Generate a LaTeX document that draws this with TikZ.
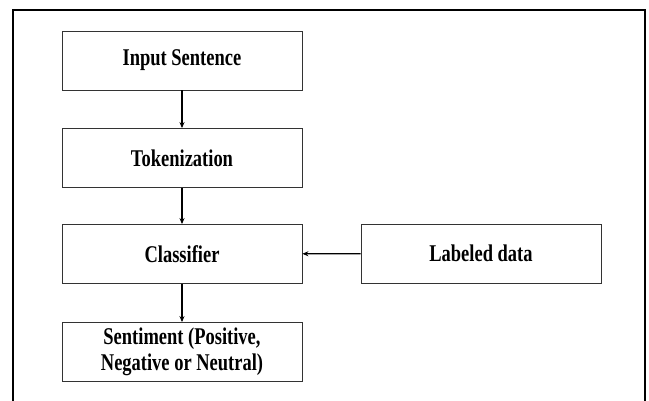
\documentclass[tikz,border=0pt]{standalone}
\usepackage{fontspec}
\setmainfont{Liberation Serif}[FakeStretch=0.77]
\usetikzlibrary{arrows.meta}

\begin{document}
\begin{tikzpicture}[x=1pt, y=1pt,
    stagebox/.style={draw=black!80, line width=0.8pt, minimum width=240pt, minimum height=59pt,
      inner sep=0pt, align=center, font=\fontsize{24}{25}\selectfont\bfseries},
    flow/.style={-{Stealth[length=6pt,width=5pt]}, line width=1.2pt}]
    \useasboundingbox (0,0) rectangle (649,401);
    % outer frame, open at the bottom
    \draw[line width=1.8pt] (13,0) -- (13,391) -- (645,391) -- (645,0);
    \node[stagebox] (input) at (182,340.5) {Input Sentence};
    \node[stagebox] (token) at (182,243) {Tokenization};
    \node[stagebox] (classifier) at (182,147) {Classifier};
    \node[stagebox] (sentiment) at (182,49) {Sentiment (Positive,\\[1pt]Negative or Neutral)};
    \node[stagebox] (labeled) at (481,147.5) {Labeled data};
    \draw[flow] (input) -- (token);
    \draw[flow] (token) -- (classifier);
    \draw[flow] (classifier) -- (sentiment);
    \draw[flow] (labeled) -- (classifier);
\end{tikzpicture}
\end{document}
